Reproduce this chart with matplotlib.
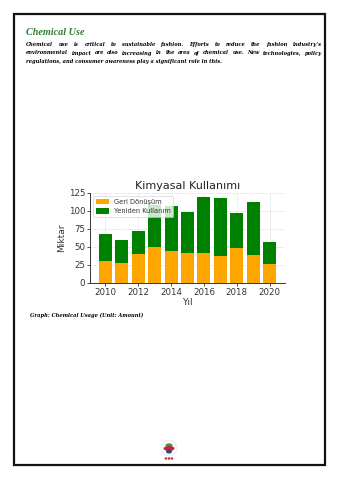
import matplotlib
matplotlib.use("Agg")
import matplotlib.pyplot as plt
from matplotlib.patches import Rectangle, Circle, Ellipse

W, H = 339, 480
DPI = 100

years = [2010, 2011, 2012, 2013, 2014, 2015, 2016, 2017, 2018, 2019, 2020]
recycle = [31, 28, 40, 50, 44, 42, 42, 38, 48, 39, 26]
reuse = [37, 32, 32, 58, 63, 57, 78, 80, 49, 73, 31]
series_labels = ["Geri Dönüşüm", "Yeniden Kullanım"]
chart_title = "Kimyasal Kullanımı"
x_label = "Yıl"
y_label = "Miktar"
page_title = "Chemical Use"
para_lines = [
    "Chemical use is critical to sustainable fashion. Efforts to reduce the fashion industry’s",
    "environmental impact are also increasing in the area of chemical use. New technologies, policy",
    "regulations, and consumer awareness play a significant role in this.",
]
caption = "Graph: Chemical Usage (Unit: Amount)"

fig = plt.figure(figsize=(W / DPI, H / DPI), dpi=DPI)
fig.patch.set_facecolor("white")
renderer = fig.canvas.get_renderer()

def px(x):
    return x / W

def py(y):
    return 1 - y / H

# page border
fig.add_artist(Rectangle((px(14), py(465)), px(311), (465 - 14) / H, transform=fig.transFigure,
                         fill=False, edgecolor="#111111", linewidth=1.6))

serif = ["DejaVu Serif"]
FK = dict(family=serif, weight="bold", style="italic")

def fitted_text(x, y, s, target_w, color="black", fontsize=10, fk=FK):
    t = fig.text(px(x), py(y), s, fontsize=fontsize, color=color, ha="left", va="baseline", **fk)
    w = t.get_window_extent(renderer).width
    t.set_fontsize(fontsize * target_w / w)
    return t

fitted_text(26, 35, page_title, 58, color="#2e7d32",
            fk=dict(family=["Liberation Serif"], weight="bold", style="italic"))

# paragraph, justified
left, right = 26, 322
t = fig.text(0, 0, para_lines[2], fontsize=10, **FK)
para_fs = 10 * 196 / t.get_window_extent(renderer).width
t.remove()
baselines = [46, 54.5, 63]
for i, line in enumerate(para_lines):
    words = line.split(" ")
    if i < len(para_lines) - 1:
        arts = [fig.text(0, py(baselines[i]), w_, fontsize=para_fs, ha="left", va="baseline", **FK)
                for w_ in words]
        widths = [a.get_window_extent(renderer).width for a in arts]
        gap = (right - left - sum(widths)) / (len(words) - 1)
        xcur = left
        for a, wd in zip(arts, widths):
            a.set_x(px(xcur))
            xcur += wd + gap
    else:
        fig.text(px(left), py(baselines[i]), line, fontsize=para_fs, ha="left", va="baseline", **FK)

fitted_text(30, 317, caption, 114)

# chart
ax = fig.add_axes([px(90), py(283), px(195), (283 - 193) / H])
ax.bar(years, recycle, width=0.8, color="#FFA500", label=series_labels[0], zorder=2)
ax.bar(years, reuse, width=0.8, bottom=recycle, color="#008000", label=series_labels[1], zorder=2)
ax.set_ylim(0, 125)
ax.set_yticks([0, 25, 50, 75, 100, 125])
ax.set_xticks([2010, 2012, 2014, 2016, 2018, 2020])
ax.grid(True, linestyle=":", color="#cccccc", linewidth=0.6, zorder=0)
ax.set_axisbelow(True)
for s in ["top", "right"]:
    ax.spines[s].set_visible(False)
for s in ["left", "bottom"]:
    ax.spines[s].set_linewidth(0.7)
    ax.spines[s].set_color("#333333")
ax.tick_params(labelsize=6.2, length=2, width=0.6, pad=1.5, colors="#333333")
ax.set_title(chart_title, fontsize=8.0, color="#222222", pad=3)
ax.set_xlabel(x_label, fontsize=6.5, color="#333333", labelpad=1)
ax.set_ylabel(y_label, fontsize=6.5, color="#333333", labelpad=2)
leg = ax.legend(loc="upper left", fontsize=4.8, frameon=True, handlelength=1.9, handleheight=0.8,
                borderpad=0.4, labelspacing=0.5, framealpha=0.8)
leg.get_frame().set_linewidth(0.5)
for txt in leg.get_texts():
    txt.set_color("#333333")

# small logo
lax = fig.add_axes([px(159), py(461), px(20), 22 / H])
lax.set_xlim(-1, 1)
lax.set_ylim(-1.1, 1.1)
lax.set_aspect("equal")
lax.axis("off")
lax.add_patch(Circle((0, 0.2), 0.8, fill=False, edgecolor="#aaaaaa", linewidth=0.4, linestyle=":"))
lax.add_patch(Ellipse((0, 0.45), 0.55, 0.3, color="#3a9a3a"))
lax.add_patch(Ellipse((0, 0.15), 0.95, 0.35, color="#cc2233"))
lax.add_patch(Ellipse((0, -0.15), 0.45, 0.28, color="#334488"))
for xx in (-0.3, 0, 0.3):
    lax.add_patch(Circle((xx, -0.85), 0.06, color="#cc3333"))

fig.savefig("out.png", dpi=DPI)
